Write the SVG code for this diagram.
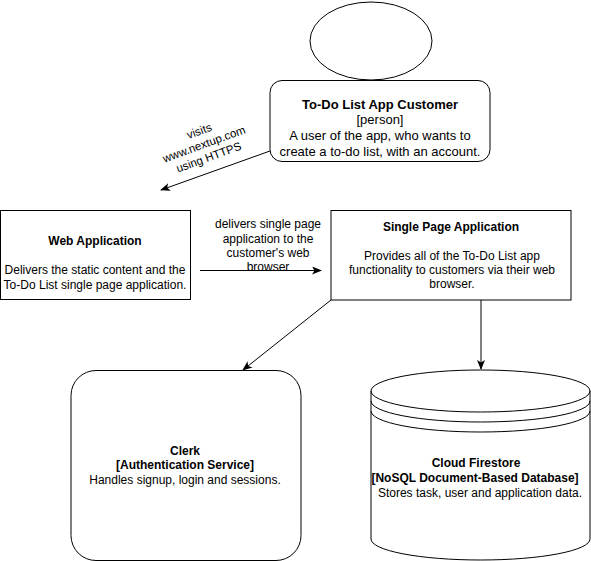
<svg xmlns="http://www.w3.org/2000/svg" width="591" height="561" viewBox="0 0 591 561">
<style>
.shape{fill:#fff;stroke:#000;stroke-width:1}
.conn{fill:none;stroke:#000;stroke-width:1;marker-end:url(#arr)}
text{font-family:"Liberation Sans",Arial,sans-serif;fill:#000;text-anchor:middle}
.b{font-weight:bold}
</style>
<defs>
<marker id="arr" viewBox="0 0 10 8" refX="9" refY="4" markerWidth="10" markerHeight="8" markerUnits="userSpaceOnUse" orient="auto">
<path d="M0,0 L10,4 L0,8 L2.5,4 Z" fill="#000"/>
</marker>
</defs>
<rect width="591" height="561" fill="#fff"/>
<g id="connectors">
<line class="conn" x1="270" y1="151" x2="161" y2="190"/>
<line class="conn" x1="200" y1="270.5" x2="321" y2="270.5"/>
<line class="conn" x1="331" y1="300" x2="243" y2="370"/>
<line class="conn" x1="481" y1="300" x2="481" y2="369"/>
</g>
<g id="label-visits" transform="translate(204,144) rotate(-20)">
<text x="0" y="-10" font-size="11.5">visits</text>
<text x="0" y="4" font-size="11.5">www.nextup.com</text>
<text x="0" y="18" font-size="11.5">using HTTPS</text>
</g>
<g id="label-delivers" font-size="12">
<text x="268" y="228">delivers single page</text>
<text x="268" y="243">application to the</text>
<text x="268" y="257">customer's web</text>
<text x="268" y="271">browser</text>
</g>
<g id="customer-head">
<ellipse class="shape" cx="371" cy="41" rx="61" ry="39"/>
</g>
<g id="customer">
<rect class="shape" x="270" y="80.5" width="220" height="81" rx="12"/>
<text class="b" x="380" y="109" font-size="13">To-Do List App Customer</text>
<text x="380" y="124" font-size="13">[person]</text>
<text x="380" y="140" font-size="13">A user of the app, who wants to</text>
<text x="380" y="156" font-size="13">create a to-do list, with an account.</text>
</g>
<g id="web-app">
<rect class="shape" x="0.5" y="210.5" width="190" height="89"/>
<text class="b" x="95" y="245" font-size="12">Web Application</text>
<text x="95" y="274" font-size="12">Delivers the static content and the</text>
<text x="95" y="289" font-size="12">To-Do List single page application.</text>
</g>
<g id="spa">
<rect class="shape" x="331" y="210.5" width="240" height="89.5"/>
<text class="b" x="451" y="231" font-size="12">Single Page Application</text>
<text x="452" y="260" font-size="12">Provides all of the To-Do List app</text>
<text x="452" y="274" font-size="12">functionality to customers via their web</text>
<text x="452" y="288" font-size="12">browser.</text>
</g>
<g id="clerk">
<rect class="shape" x="71" y="370.5" width="230" height="190" rx="25"/>
<text class="b" x="185" y="455" font-size="12">Clerk</text>
<text class="b" x="185" y="469" font-size="12">[Authentication Service]</text>
<text x="185" y="484" font-size="12">Handles signup, login and sessions.</text>
</g>
<g id="firestore">
<path class="shape" d="M371,391 A109.5,21 0 0 1 590,391 L590,539 A109.5,21 0 0 1 371,539 Z"/>
<path fill="none" stroke="#000" d="M371,391 A109.5,21 0 0 0 590,391 M371,401 A109.5,21 0 0 0 590,401 M371,411 A109.5,21 0 0 0 590,411"/>
<text class="b" x="476" y="467" font-size="12">Cloud Firestore</text>
<text class="b" x="475" y="482" font-size="12">[NoSQL Document-Based Database]</text>
<text x="480" y="497" font-size="12">Stores task, user and application data.</text>
</g>
</svg>
